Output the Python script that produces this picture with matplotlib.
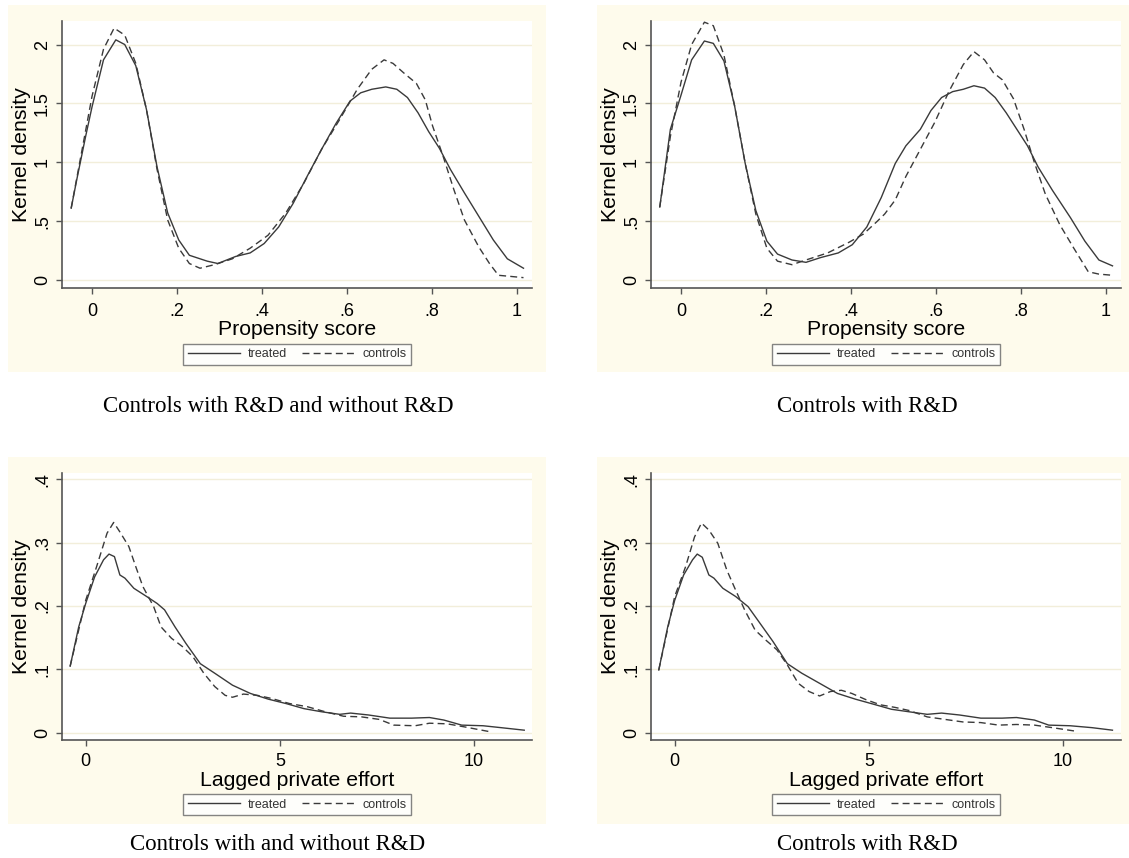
import matplotlib
matplotlib.use("Agg")
import matplotlib.pyplot as plt
from matplotlib.patches import Rectangle

plt.rcParams['font.family'] = ['Liberation Sans', 'DejaVu Sans']

# ---- data ----
# top left: propensity score, controls with and without R&D
tl_treat_x = [-0.049, -0.036, -0.015, 0.0, 0.027, 0.056, 0.077, 0.103, 0.128, 0.153, 0.178, 0.204, 0.229,
              0.271, 0.296, 0.338, 0.372, 0.405, 0.439, 0.473, 0.506, 0.540, 0.574, 0.607, 0.632, 0.658,
              0.691, 0.717, 0.742, 0.767, 0.792, 0.817, 0.843, 0.876, 0.910, 0.944, 0.977, 1.015]
tl_treat_y = [0.61, 0.85, 1.22, 1.47, 1.87, 2.04, 2.00, 1.82, 1.45, 0.96, 0.57, 0.34, 0.21,
              0.16, 0.14, 0.20, 0.23, 0.31, 0.45, 0.65, 0.88, 1.11, 1.33, 1.52, 1.59, 1.62,
              1.64, 1.62, 1.55, 1.42, 1.26, 1.12, 0.94, 0.74, 0.54, 0.34, 0.18, 0.10]
tl_ctrl_x = [-0.049, 0.0, 0.027, 0.052, 0.077, 0.103, 0.128, 0.153, 0.178, 0.204, 0.229, 0.254, 0.288,
             0.330, 0.372, 0.414, 0.456, 0.498, 0.540, 0.582, 0.624, 0.658, 0.687, 0.708, 0.733, 0.763,
             0.784, 0.801, 0.826, 0.851, 0.876, 0.910, 0.935, 0.956, 0.986, 1.015]
tl_ctrl_y = [0.61, 1.56, 1.96, 2.14, 2.08, 1.84, 1.45, 0.94, 0.51, 0.27, 0.14, 0.10, 0.13,
             0.18, 0.27, 0.38, 0.57, 0.82, 1.11, 1.36, 1.62, 1.79, 1.87, 1.84, 1.76, 1.67,
             1.53, 1.31, 1.05, 0.77, 0.51, 0.28, 0.14, 0.04, 0.03, 0.02]

# top right: propensity score, controls with R&D
tr_treat_x = [-0.050, -0.025, 0.0, 0.025, 0.055, 0.076, 0.101, 0.126, 0.151, 0.176, 0.202, 0.227, 0.261,
              0.294, 0.328, 0.370, 0.403, 0.437, 0.471, 0.504, 0.529, 0.563, 0.588, 0.613, 0.639, 0.664,
              0.689, 0.714, 0.739, 0.765, 0.790, 0.815, 0.840, 0.874, 0.916, 0.950, 0.983, 1.015]
tr_treat_y = [0.62, 1.28, 1.57, 1.87, 2.03, 2.01, 1.86, 1.48, 0.99, 0.59, 0.33, 0.22, 0.17,
              0.15, 0.19, 0.23, 0.30, 0.45, 0.70, 0.99, 1.14, 1.28, 1.44, 1.55, 1.60, 1.62,
              1.65, 1.63, 1.55, 1.42, 1.28, 1.14, 0.96, 0.76, 0.53, 0.33, 0.17, 0.12]
tr_ctrl_x = [-0.050, -0.025, 0.0, 0.025, 0.055, 0.076, 0.101, 0.126, 0.151, 0.176, 0.202, 0.227, 0.261,
             0.294, 0.345, 0.395, 0.429, 0.462, 0.479, 0.504, 0.529, 0.563, 0.597, 0.630, 0.664, 0.689,
             0.714, 0.735, 0.756, 0.782, 0.807, 0.832, 0.857, 0.891, 0.924, 0.958, 0.983, 1.015]
tr_ctrl_y = [0.62, 1.22, 1.68, 2.00, 2.19, 2.16, 1.91, 1.48, 0.99, 0.56, 0.27, 0.16, 0.13,
             0.17, 0.23, 0.32, 0.39, 0.50, 0.56, 0.68, 0.88, 1.11, 1.34, 1.60, 1.83, 1.94,
             1.87, 1.76, 1.70, 1.54, 1.28, 0.99, 0.73, 0.47, 0.27, 0.07, 0.05, 0.04]

# bottom left: lagged private effort, controls with and without R&D
bl_treat_x = [-0.40, -0.18, 0.0, 0.23, 0.46, 0.60, 0.74, 0.88, 1.01, 1.24, 1.57, 1.84, 2.03, 2.30, 2.58,
              2.95, 3.32, 3.78, 4.24, 4.70, 5.16, 5.62, 6.08, 6.54, 6.82, 7.28, 7.83, 8.39, 8.85, 9.22,
              9.68, 10.23, 10.69, 11.29]
bl_treat_y = [0.105, 0.167, 0.204, 0.246, 0.273, 0.282, 0.278, 0.249, 0.244, 0.228, 0.215, 0.204, 0.194,
              0.167, 0.141, 0.109, 0.094, 0.075, 0.062, 0.053, 0.046, 0.038, 0.033, 0.029, 0.031, 0.028,
              0.023, 0.023, 0.024, 0.020, 0.012, 0.011, 0.008, 0.004]
bl_ctrl_x = [-0.40, 0.0, 0.28, 0.55, 0.72, 0.88, 1.11, 1.29, 1.47, 1.75, 1.94, 2.21, 2.49, 2.76, 3.04,
             3.32, 3.59, 3.78, 4.06, 4.42, 4.79, 5.25, 5.71, 6.17, 6.64, 7.10, 7.56, 7.93, 8.48, 8.85,
             9.31, 9.77, 10.37]
bl_ctrl_y = [0.105, 0.209, 0.262, 0.315, 0.332, 0.317, 0.294, 0.262, 0.231, 0.199, 0.167, 0.149, 0.136,
             0.120, 0.094, 0.073, 0.059, 0.056, 0.061, 0.059, 0.054, 0.046, 0.041, 0.033, 0.026, 0.025,
             0.021, 0.012, 0.011, 0.015, 0.014, 0.009, 0.002]

# bottom right: lagged private effort, controls with R&D
br_treat_x = [-0.41, -0.18, 0.0, 0.23, 0.46, 0.58, 0.71, 0.88, 1.01, 1.24, 1.57, 1.89, 2.17, 2.53, 2.90,
              3.27, 3.73, 4.19, 4.65, 5.12, 5.58, 6.04, 6.50, 6.87, 7.33, 7.88, 8.43, 8.80, 9.26, 9.63,
              10.18, 10.74, 11.27]
br_treat_y = [0.099, 0.167, 0.209, 0.249, 0.273, 0.282, 0.277, 0.249, 0.244, 0.228, 0.215, 0.199, 0.175,
              0.144, 0.109, 0.094, 0.078, 0.062, 0.053, 0.045, 0.037, 0.033, 0.029, 0.031, 0.028, 0.023,
              0.023, 0.024, 0.020, 0.012, 0.011, 0.008, 0.004]
br_ctrl_x = [-0.41, 0.0, 0.28, 0.51, 0.69, 0.88, 1.11, 1.34, 1.57, 1.80, 2.07, 2.35, 2.63, 2.90, 3.18,
             3.46, 3.73, 4.01, 4.29, 4.56, 4.93, 5.30, 5.67, 6.04, 6.50, 6.96, 7.42, 7.88, 8.34, 8.80,
             9.26, 9.72, 10.37]
br_ctrl_y = [0.099, 0.215, 0.262, 0.309, 0.331, 0.320, 0.299, 0.257, 0.225, 0.194, 0.162, 0.146, 0.131,
             0.107, 0.078, 0.065, 0.058, 0.065, 0.067, 0.062, 0.052, 0.044, 0.040, 0.035, 0.025, 0.021,
             0.017, 0.016, 0.012, 0.013, 0.012, 0.008, 0.002]

ps_ticks = [0, 0.2, 0.4, 0.6, 0.8, 1.0]
ps_ticklabels = ["0", ".2", ".4", ".6", ".8", "1"]
ps_yticks = [0, 0.5, 1.0, 1.5, 2.0]
ps_yticklabels = ["0", ".5", "1", "1.5", "2"]
eff_ticks = [0, 5, 10]
eff_ticklabels = ["0", "5", "10"]
eff_yticks = [0, 0.1, 0.2, 0.3, 0.4]
eff_yticklabels = ["0", ".1", ".2", ".3", ".4"]

captions = ["Controls with R&D and without R&D", "Controls with R&D",
            "Controls with and without R&D", "Controls with R&D"]

W, H = 1129, 858
CREAM = '#FEFBEC'
LINE = '#3a3a3a'
AXC = '#555555'

fig = plt.figure(figsize=(W / 100, H / 100), dpi=100)
fig.patch.set_facecolor('white')


def px_axes(x0, y0, w, h):
    return fig.add_axes([x0 / W, 1 - (y0 + h) / H, w / W, h / H])


def panel(dx, dy, tx, ty, cx, cy, xlim, ylim, xt, xtl, yt, ytl, xlabel, xlab_y, xpad, cap_y, caption):
    # cream graph region
    fig.add_artist(Rectangle(((8 + dx) / W, 1 - (372 + dy) / H), 538 / W, 367 / H,
                             transform=fig.transFigure, facecolor=CREAM, edgecolor='none', zorder=0))
    ax = px_axes(62 + dx, 21 + dy, 470, 267)
    ax.set_facecolor('white')
    ax.plot(tx, ty, color=LINE, lw=1.0, label='treated')
    ax.plot(cx, cy, color=LINE, lw=1.0, ls=(0, (5, 3)), label='controls')
    ax.set_xlim(xlim)
    ax.set_ylim(ylim)
    ax.set_xticks(xt)
    ax.set_xticklabels(xtl)
    ax.set_yticks(yt)
    ax.set_yticklabels(ytl, rotation=90, va='center')
    ax.tick_params(axis='both', labelsize=13, length=4, width=1, color=AXC, pad=4)
    ax.tick_params(axis='x', pad=xpad)
    ax.yaxis.grid(True, color='#F2EEDA', lw=1)
    ax.set_axisbelow(True)
    for s in ['top', 'right']:
        ax.spines[s].set_visible(False)
    for s in ['left', 'bottom']:
        ax.spines[s].set_color(AXC)
        ax.spines[s].set_linewidth(1.2)
    ax.set_ylabel('Kernel density', fontsize=15.3)
    ax.yaxis.set_label_coords(-0.087, 0.5)
    ax.yaxis.label.set_va('center')
    ax.set_xlabel(xlabel, fontsize=15.3)
    ax.xaxis.set_label_coords(0.5, xlab_y)
    ax.xaxis.label.set_va('center')
    leg_y = -0.249 if dy == 0 else -0.242
    leg = ax.legend(loc='center', bbox_to_anchor=(0.245, leg_y - 0.043, 0.51, 0.086), mode='expand',
                    ncol=2, fontsize=9, frameon=True, fancybox=False, handlelength=4.2,
                    handletextpad=0.6, borderpad=0.35, columnspacing=2.0)
    leg.get_frame().set_edgecolor('#666666')
    leg.get_frame().set_linewidth(1.0)
    for t in leg.get_texts():
        t.set_color('#333333')
    fig.text((278 + dx) / W, 1 - cap_y / H, caption, ha='center', va='center',
             fontsize=16.5, family='Liberation Serif')
    return ax


panel(0, 0, tl_treat_x, tl_treat_y, tl_ctrl_x, tl_ctrl_y, (-0.0706, 1.035), (-0.068, 2.20),
      ps_ticks, ps_ticklabels, ps_yticks, ps_yticklabels, 'Propensity score', -0.157, 7, 407, captions[0])
panel(589, 0, tr_treat_x, tr_treat_y, tr_ctrl_x, tr_ctrl_y, (-0.0706, 1.035), (-0.068, 2.20),
      ps_ticks, ps_ticklabels, ps_yticks, ps_yticklabels, 'Propensity score', -0.157, 7, 407, captions[1])
panel(0, 452, bl_treat_x, bl_treat_y, bl_ctrl_x, bl_ctrl_y, (-0.61, 11.49), (-0.0115, 0.41),
      eff_ticks, eff_ticklabels, eff_yticks, eff_yticklabels, 'Lagged private effort', -0.153, 5, 845,
      captions[2])
panel(589, 452, br_treat_x, br_treat_y, br_ctrl_x, br_ctrl_y, (-0.61, 11.49), (-0.0115, 0.41),
      eff_ticks, eff_ticklabels, eff_yticks, eff_yticklabels, 'Lagged private effort', -0.153, 5, 845,
      captions[3])

fig.savefig('out.png', dpi=100, facecolor='white')
